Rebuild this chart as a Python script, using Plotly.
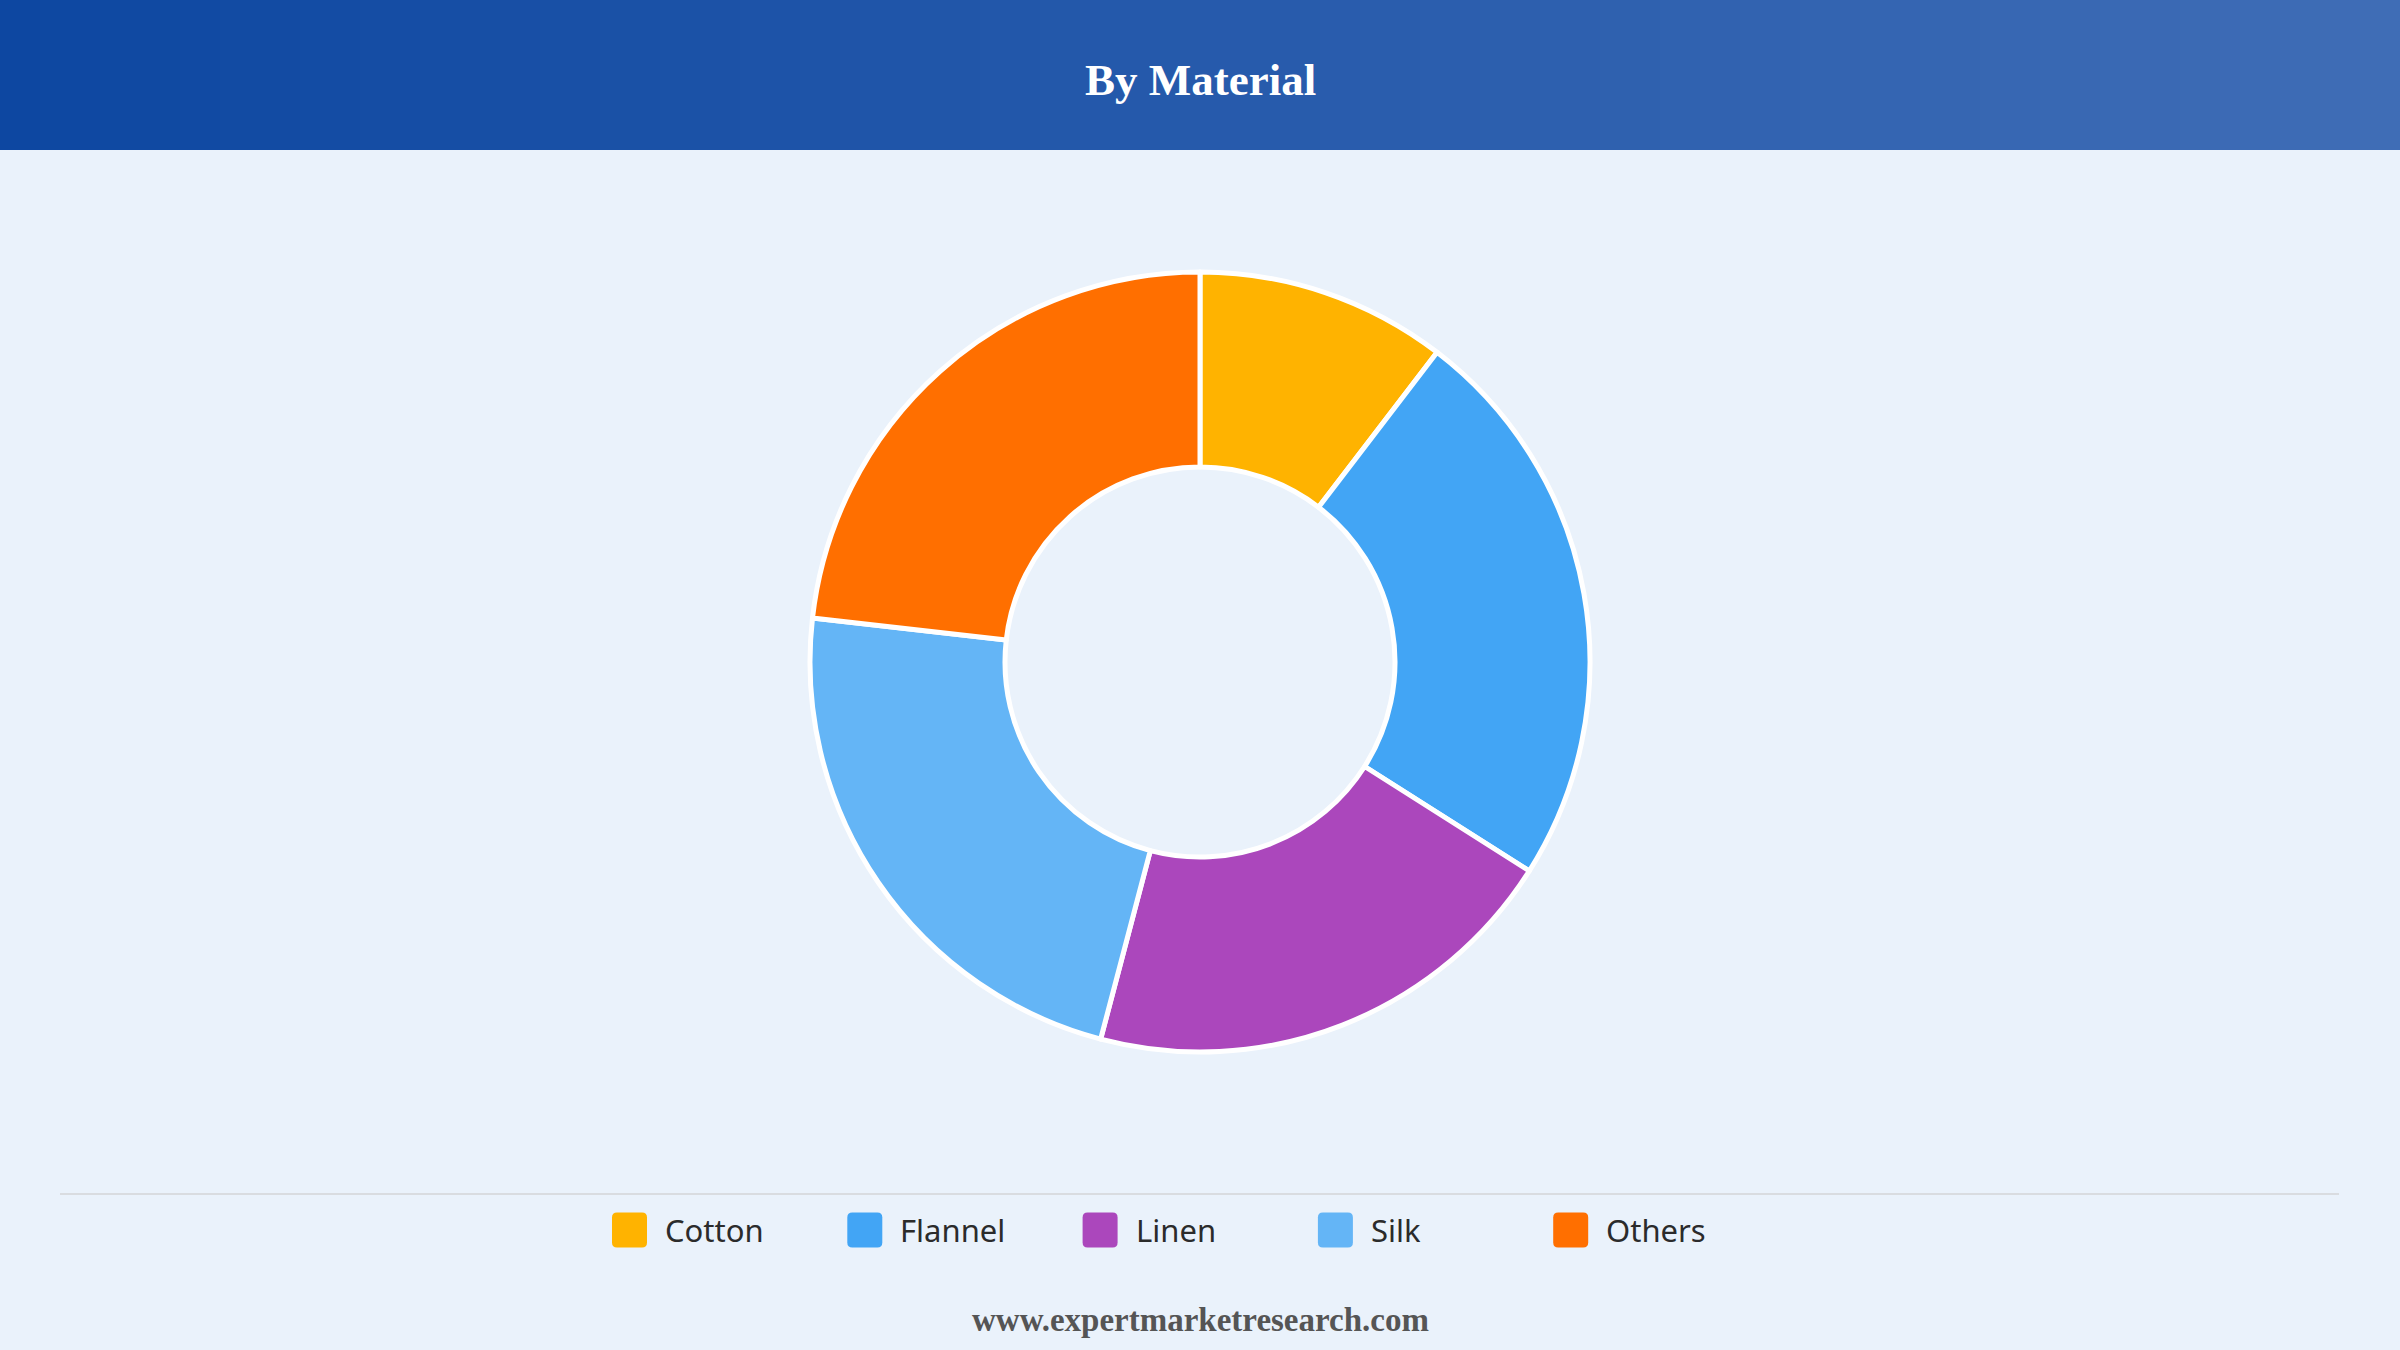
import plotly.graph_objects as go

# ---- data ----
categories = ["Cotton", "Flannel", "Linen", "Silk", "Others"]
shares = [10.4, 23.6, 20.1, 22.7, 23.2]
colors = ["#FFB300", "#42A5F5", "#AB47BC", "#64B5F6", "#FF6F00"]
title_text = "By Material"
footer_text = "www.expertmarketresearch.com"

W, H = 2400, 1350
BG = "#EAF2FB"

fig = go.Figure()

# donut
cx, cy, r = 1200, 662, 390
fig.add_trace(go.Pie(
    labels=categories, values=shares, hole=0.5, sort=False,
    direction="clockwise", rotation=0,
    marker=dict(colors=colors, line=dict(color="#FFFFFF", width=5)),
    textinfo="none", hoverinfo="label+percent", showlegend=False,
    domain=dict(x=[(cx - r) / W, (cx + r) / W],
                y=[(H - cy - r) / H, (H - cy + r) / H]),
))

shapes = []
# header gradient (strips)
c0 = (0x0D, 0x47, 0xA1)
c1 = (0x3F, 0x6D, 0xB6)
n = 120
for i in range(n):
    t = i / (n - 1)
    col = "rgb(%d,%d,%d)" % tuple(round(a + (b - a) * t) for a, b in zip(c0, c1))
    shapes.append(dict(type="rect", xref="paper", yref="paper",
                       x0=i / n, x1=(i + 1) / n + 0.001,
                       y0=1 - 150 / H, y1=1, fillcolor=col,
                       line=dict(width=0), layer="below"))

# legend separator
shapes.append(dict(type="line", xref="paper", yref="paper",
                   x0=60 / W, x1=2339 / W, y0=1 - 1194 / H, y1=1 - 1194 / H,
                   line=dict(color="#D9DCE0", width=2)))

annotations = []
# manual legend
sw = 35
rad = 5
start_x, step = 612, 235.3
ly = 1230
for i, (name, col) in enumerate(zip(categories, colors)):
    x0 = start_x + i * step
    x1 = x0 + sw
    y0 = ly - sw / 2
    y1 = ly + sw / 2
    def px(x):
        return x / W
    def py(y):
        return 1 - y / H
    path = (f"M{px(x0+rad)},{py(y0)} L{px(x1-rad)},{py(y0)} "
            f"Q{px(x1)},{py(y0)} {px(x1)},{py(y0+rad)} "
            f"L{px(x1)},{py(y1-rad)} Q{px(x1)},{py(y1)} {px(x1-rad)},{py(y1)} "
            f"L{px(x0+rad)},{py(y1)} Q{px(x0)},{py(y1)} {px(x0)},{py(y1-rad)} "
            f"L{px(x0)},{py(y0+rad)} Q{px(x0)},{py(y0)} {px(x0+rad)},{py(y0)} Z")
    shapes.append(dict(type="path", xref="paper", yref="paper", path=path,
                       fillcolor=col, line=dict(width=0)))
    annotations.append(dict(x=(x1 + 16) / W, y=1 - ly / H, xref="paper", yref="paper",
                            text=name, showarrow=False, xanchor="left", yanchor="middle",
                            font=dict(family="Noto Sans, Open Sans, sans-serif",
                                      size=31, color="#2B2B2B")))

# title
annotations.append(dict(x=0.5, y=1 - 80 / H, xref="paper", yref="paper",
                        text="<b>%s</b>" % title_text, showarrow=False,
                        xanchor="center", yanchor="middle",
                        font=dict(family="Liberation Serif, Times New Roman, serif",
                                  size=45, color="#FFFFFF")))
# footer
annotations.append(dict(x=0.5, y=1 - 1320 / H, xref="paper", yref="paper",
                        text="<b>%s</b>" % footer_text, showarrow=False,
                        xanchor="center", yanchor="middle",
                        font=dict(family="Liberation Serif, Times New Roman, serif",
                                  size=33, color="#555555")))

fig.update_layout(
    width=W, height=H, autosize=False,
    margin=dict(l=0, r=0, t=0, b=0),
    paper_bgcolor=BG, plot_bgcolor=BG,
    shapes=shapes, annotations=annotations,
    showlegend=False,
)

fig.write_html("out.html", config={"displayModeBar": False})
